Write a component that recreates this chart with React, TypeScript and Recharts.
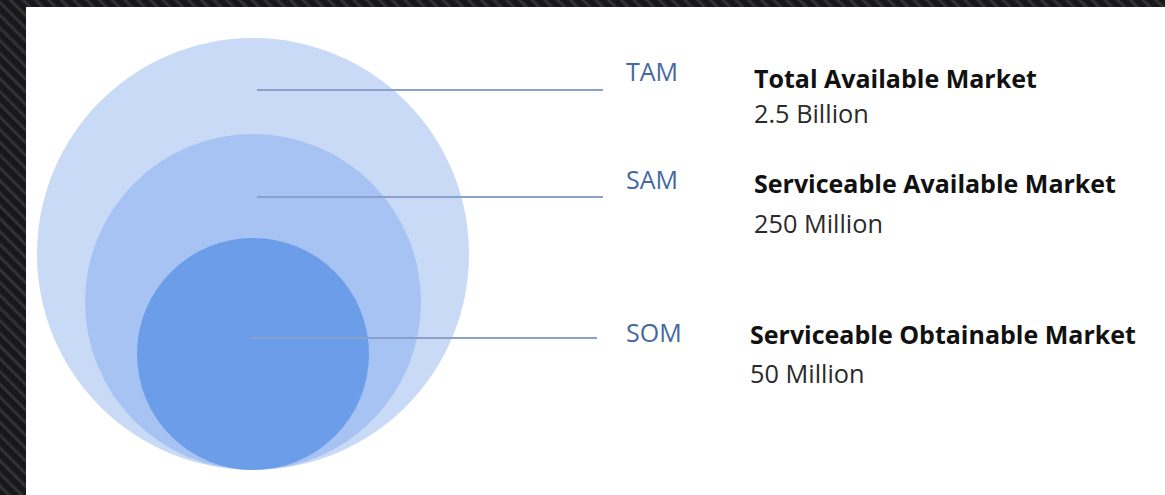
import React from "react";
import { ScatterChart, Scatter, XAxis, YAxis } from "recharts";

// ---- data ----
const marketCodes = ["TAM", "SAM", "SOM"];
const marketNames = [
  "Total Available Market",
  "Serviceable Available Market",
  "Serviceable Obtainable Market",
];
const marketValues = ["2.5 Billion", "250 Million", "50 Million"];
// relative bubble size (radius, in chart units)
const bubbleRadius = [216, 168, 116];

// ---- layout / style ----
const CHART_W = 1139;
const CHART_H = 488;
const CENTER_X = 227;
const BASE_Y = 463;
const FILLS = ["#c9daf6", "#a6c3f3", "#6c9de8"];
const LINE_Y = [83, 190, 331];
const LINE_X0 = [231, 231, 225];
const LINE_X1 = [577, 577, 571];
const CODE_X = 600;
const CODE_BASE = [74, 182, 335];
const TITLE_X = [728, 728, 724];
const TITLE_BASE = [81, 186, 337];
const VALUE_BASE = [116, 226, 376];
const FONT = "'Open Sans', 'Noto Sans', sans-serif";

const circleData = bubbleRadius.map((r, i) => ({
  x: CENTER_X,
  y: BASE_Y - r,
  r,
  fill: FILLS[i],
}));

const labelData = marketCodes.map((code, i) => ({
  x: LINE_X0[i],
  y: LINE_Y[i],
  i,
  code,
  name: marketNames[i],
  value: marketValues[i],
}));

const CircleShape = (props: any) => {
  const { cx, cy, payload } = props;
  return <circle cx={cx} cy={cy} r={payload.r} fill={payload.fill} />;
};

const LabelShape = (props: any) => {
  const { cx, cy, payload } = props;
  const i = payload.i;
  const dx = LINE_X1[i] - LINE_X0[i];
  return (
    <g>
      <line x1={cx} y1={cy} x2={cx + dx} y2={cy} stroke="#8aa2cb" strokeWidth={2} />
      <text
        x={CODE_X}
        y={CODE_BASE[i]}
        fontFamily={FONT}
        fontSize={25}
        fill="#45699f"
      >
        {payload.code}
      </text>
      <text
        x={TITLE_X[i]}
        y={TITLE_BASE[i]}
        fontFamily={FONT}
        fontSize={25}
        fontWeight={700}
        fill="#111111"
      >
        {payload.name}
      </text>
      <text
        x={TITLE_X[i]}
        y={VALUE_BASE[i]}
        fontFamily={FONT}
        fontSize={25.3}
        fill="#2a2a2a"
      >
        {payload.value}
      </text>
    </g>
  );
};

export default function App() {
  return (
    <div
      style={{
        position: "fixed",
        left: 0,
        top: 0,
        width: 1165,
        height: 495,
        background:
          "repeating-linear-gradient(45deg, #18181a 0px, #18181a 4px, #38383c 6px, #18181a 9px)",
        overflow: "hidden",
      }}
    >
      <div
        style={{
          position: "absolute",
          left: 26,
          top: 7,
          width: CHART_W,
          height: CHART_H,
          background: "#ffffff",
        }}
      >
        <ScatterChart
          width={CHART_W}
          height={CHART_H}
          margin={{ top: 0, right: 0, bottom: 0, left: 0 }}
        >
          <XAxis type="number" dataKey="x" domain={[0, CHART_W]} hide allowDataOverflow />
          <YAxis
            type="number"
            dataKey="y"
            domain={[0, CHART_H]}
            reversed
            hide
            allowDataOverflow
          />
          <Scatter data={circleData} shape={CircleShape} isAnimationActive={false} />
          <Scatter data={labelData} shape={LabelShape} isAnimationActive={false} />
        </ScatterChart>
      </div>
    </div>
  );
}
